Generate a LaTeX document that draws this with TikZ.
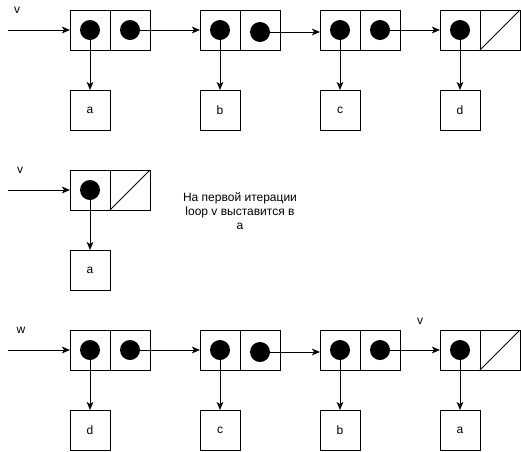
\documentclass[tikz,border=0pt]{standalone}
\usepackage{fontspec}
\setmainfont{Liberation Sans}
\usetikzlibrary{arrows.meta}
\begin{document}
\begin{tikzpicture}[x=0.75pt,y=-0.75pt,
  cell/.style={draw,line width=0.75pt,minimum size=30pt,inner sep=0pt,outer sep=0pt},
  valbox/.style={draw,line width=0.75pt,minimum size=30pt,inner sep=0pt,outer sep=0pt,font=\fontsize{9pt}{10.5pt}\selectfont},
  dot/.style={circle,fill=black,minimum size=15pt,inner sep=0pt},
  arr/.style={line width=0.75pt,-{Stealth[length=6pt,width=5pt,inset=1.5pt]}},
  lbl/.style={font=\fontsize{9pt}{10.5pt}\selectfont,inner sep=0pt}]
\useasboundingbox (0,0) rectangle (521,451);
% ---------- Row 1 ----------
\foreach \n/\x in {p1/90,p2/220,p3/340,p4/460}{
  \node[cell] (\n a) at (\x,30) {};
  \node[cell] (\n b) at (\x+40,30) {};
}
\node[dot] (d1a) at (90,30) {};
\node[dot] (d1b) at (130,30) {};
\node[dot] (d2a) at (220,30) {};
\node[dot] (d2b) at (260,32) {};
\node[dot] (d3a) at (340,30) {};
\node[dot] (d3b) at (380,30) {};
\node[dot] (d4a) at (460,30) {};
\draw[line width=0.75pt] (p4b.south west) -- (p4b.north east);
\node[valbox] (va) at (90,110) {a};
\node[valbox] (vb) at (220,110) {b};
\node[valbox] (vc) at (340,110) {c};
\node[valbox] (vd) at (460,110) {d};
\coordinate (s1) at (8,30);
\node[lbl] (lv1) at (17,10) {v};
\draw[arr] (s1) -- (p1a.west);
\draw[arr] (d1b.center) -- (p2a.west);
\draw[arr] (d2b.center) -- (p3a.west |- d2b.center);
\draw[arr] (d3b.center) -- (p4a.west);
\draw[arr] (d1a.center) -- (va.north);
\draw[arr] (d2a.center) -- (vb.north);
\draw[arr] (d3a.center) -- (vc.north);
\draw[arr] (d4a.center) -- (vd.north);
% ---------- Row 2 ----------
\node[cell] (q1a) at (90,190) {};
\node[cell] (q1b) at (130,190) {};
\node[dot] (e1a) at (90,190) {};
\draw[line width=0.75pt] (q1b.south west) -- (q1b.north east);
\node[valbox] (wa) at (90,270) {a};
\coordinate (s2) at (8,190);
\node[lbl] (lv2) at (20,170) {v};
\draw[arr] (s2) -- (q1a.west);
\draw[arr] (e1a.center) -- (wa.north);
\node[lbl,align=center] (txt) at (240,211) {На первой итерации\\loop v выставится в\\a};
% ---------- Row 3 ----------
\foreach \n/\x in {r1/90,r2/220,r3/340,r4/460}{
  \node[cell] (\n a) at (\x,350) {};
  \node[cell] (\n b) at (\x+40,350) {};
}
\node[dot] (f1a) at (90,350) {};
\node[dot] (f1b) at (130,350) {};
\node[dot] (f2a) at (220,350) {};
\node[dot] (f2b) at (260,352) {};
\node[dot] (f3a) at (340,350) {};
\node[dot] (f3b) at (380,350) {};
\node[dot] (f4a) at (460,350) {};
\draw[line width=0.75pt] (r4b.south west) -- (r4b.north east);
\node[valbox] (ud) at (90,430) {d};
\node[valbox] (uc) at (220,430) {c};
\node[valbox] (ub) at (340,430) {b};
\node[valbox] (ua) at (460,430) {a};
\coordinate (s3) at (8,350);
\node[lbl] (lw) at (21,330) {w};
\node[lbl] (lv3) at (420,321) {v};
\draw[arr] (s3) -- (r1a.west);
\draw[arr] (f1b.center) -- (r2a.west);
\draw[arr] (f2b.center) -- (r3a.west |- f2b.center);
\draw[arr] (f3b.center) -- (r4a.west);
\draw[arr] (f1a.center) -- (ud.north);
\draw[arr] (f2a.center) -- (uc.north);
\draw[arr] (f3a.center) -- (ub.north);
\draw[arr] (f4a.center) -- (ua.north);
\end{tikzpicture}
\end{document}
